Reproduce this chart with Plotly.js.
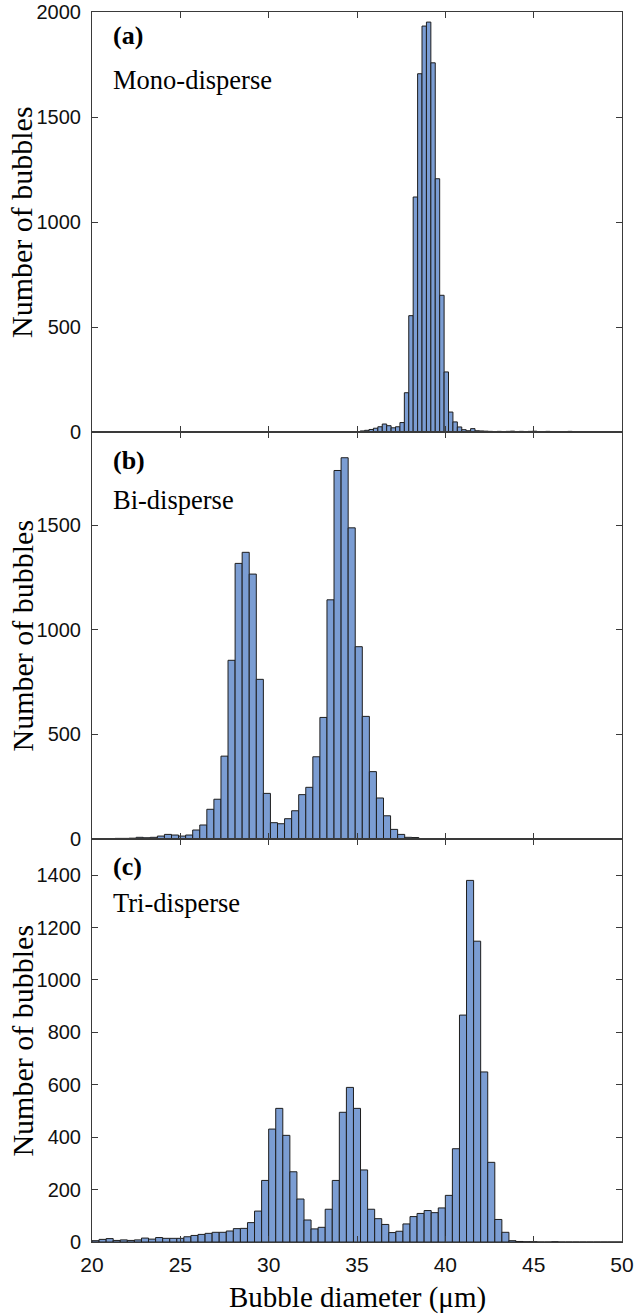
<!DOCTYPE html>
<html>
<head>
<meta charset="utf-8">
<script src="https://cdn.plot.ly/plotly-3.0.1.min.js"></script>
<style>html,body{margin:0;padding:0;background:#fff;}#chart{width:636px;height:1314px;}</style>
</head>
<body>
<div id="chart"></div>
<script>
// ---- data ----
// (a) Mono-disperse: bin width 0.25, first bin centre 35.305
const monoStart = 35.305, monoBin = 0.25;
const monoCounts = [5,8,12,18,25,38,30,20,25,45,187,554,1119,1706,1933,1952,1758,1206,651,286,95,48,24,11,6,16,6,5,4,3,2,3,2,3,4,2,3,2,3,4,2,1,3,2,1,1,2,3,1,2,1,1,0,0];
// (b) Bi-disperse: bin width 0.4, first bin centre 20.3
const biStart = 20.3, biBin = 0.4;
const biCounts = [0,0,1,3,3,4,8,6,8,14,22,19,14,19,43,67,142,190,396,854,1317,1370,1266,763,218,78,73,97,135,212,247,393,581,1143,1761,1822,1487,919,586,322,196,111,46,22,8,7,2,1,0,0];
// (c) Tri-disperse: bin width 0.4, first bin centre 20.2
const triStart = 20.2, triBin = 0.4;
const triCounts = [5,10,13,6,8,6,8,15,11,17,14,14,14,20,25,29,33,37,37,42,51,52,74,118,235,431,510,407,268,164,84,50,56,125,235,495,590,510,275,125,89,67,36,41,69,97,109,120,112,130,178,356,866,1380,1148,649,304,86,37,5,2,1,1,0,0,1,0,0,0,0,0,0,0,0,0];

const panelLetters = ['(a)','(b)','(c)'];
const panelNames = ['Mono-disperse','Bi-disperse','Tri-disperse'];
const yTicks = [[0,500,1000,1500,2000],[0,500,1000,1500],[0,200,400,600,800,1000,1200,1400]];
const yRanges = [[0,2000],[0,1945],[0,1538]];
const xTicks = [20,25,30,35,40,45,50];
const yLabel = 'Number of bubbles';
const xLabel = 'Bubble diameter (μm)';

// ---- style ----
const barFill = '#7b9dd3', barEdge = '#1e1e1e', axCol = '#3a3a3a';
const serif = 'Liberation Serif, Times New Roman, serif';
const sans = 'Liberation Sans, Arial, sans-serif';

function mk(start, bin, counts, ax){
  return {type:'bar', x0:start, dx:bin, y:counts, width:bin,
    marker:{color:barFill, line:{color:barEdge, width:1}},
    xaxis:'x'+ax, yaxis:'y'+ax, hoverinfo:'skip', showlegend:false};
}
const traces = [mk(monoStart,monoBin,monoCounts,''), mk(biStart,biBin,biCounts,'2'), mk(triStart,triBin,triCounts,'3')];
traces[0].xaxis='x'; traces[0].yaxis='y';

const domains = [[0.65854,1],[0.32764,0.65854],[0,0.32764]];
const layout = {
  width:636, height:1314,
  margin:{l:92, r:14, t:12, b:72},
  paper_bgcolor:'#fff', plot_bgcolor:'#fff',
  bargap:0, showlegend:false, annotations:[]
};
const axNames = ['','2','3'];
for(let i=0;i<3;i++){
  const a = axNames[i];
  layout['xaxis'+a] = {range:[20,50], tickvals:xTicks, ticktext:xTicks.map(String),
    showticklabels: i===2, ticks:'inside', ticklen:6, tickwidth:1, tickcolor:axCol,
    showline:true, linecolor:axCol, linewidth:1, mirror:'ticks', zeroline:false, showgrid:false,
    anchor:'y'+a, tickfont:{family:sans, size:21, color:'#111'}, ticklabelstandoff:4, fixedrange:true};
  layout['yaxis'+a] = {range:yRanges[i], domain:domains[i], tickvals:yTicks[i], ticktext:yTicks[i].map(String),
    ticks:'inside', ticklen:6, tickwidth:1, tickcolor:axCol,
    showline:true, linecolor:axCol, linewidth:1, mirror:'ticks', zeroline:false, showgrid:false,
    anchor:'x'+a, tickfont:{family:sans, size:20, color:'#111'}, ticklabelstandoff:6, fixedrange:true};
  layout.annotations.push({xref:'x'+a+' domain', yref:'y'+a+' domain', x:0.036, y:[0.943,0.929,0.933][i],
    xanchor:'left', yanchor:'middle', text:'<b>'+panelLetters[i]+'</b>', showarrow:false,
    font:{family:serif, size:26, color:'#000'}});
  layout.annotations.push({xref:'x'+a+' domain', yref:'y'+a+' domain', x:0.036, y:[0.838,0.833,0.841][i],
    xanchor:'left', yanchor:'middle', text:panelNames[i], showarrow:false,
    font:{family:serif, size:26.5, color:'#000'}});
  layout.annotations.push({xref:'paper', yref:'y'+a+' domain', x:-0.132, y:0.5,
    xanchor:'center', yanchor:'middle', textangle:-90, text:yLabel, showarrow:false,
    font:{family:serif, size:30, color:'#000'}});
}
layout.annotations.push({xref:'paper', yref:'paper', x:0.5, y:-0.0455, xanchor:'center', yanchor:'middle',
  text:xLabel, showarrow:false, font:{family:serif, size:29, color:'#000'}});

Plotly.newPlot('chart', traces, layout, {staticPlot:true, displayModeBar:false});
</script>
</body>
</html>
